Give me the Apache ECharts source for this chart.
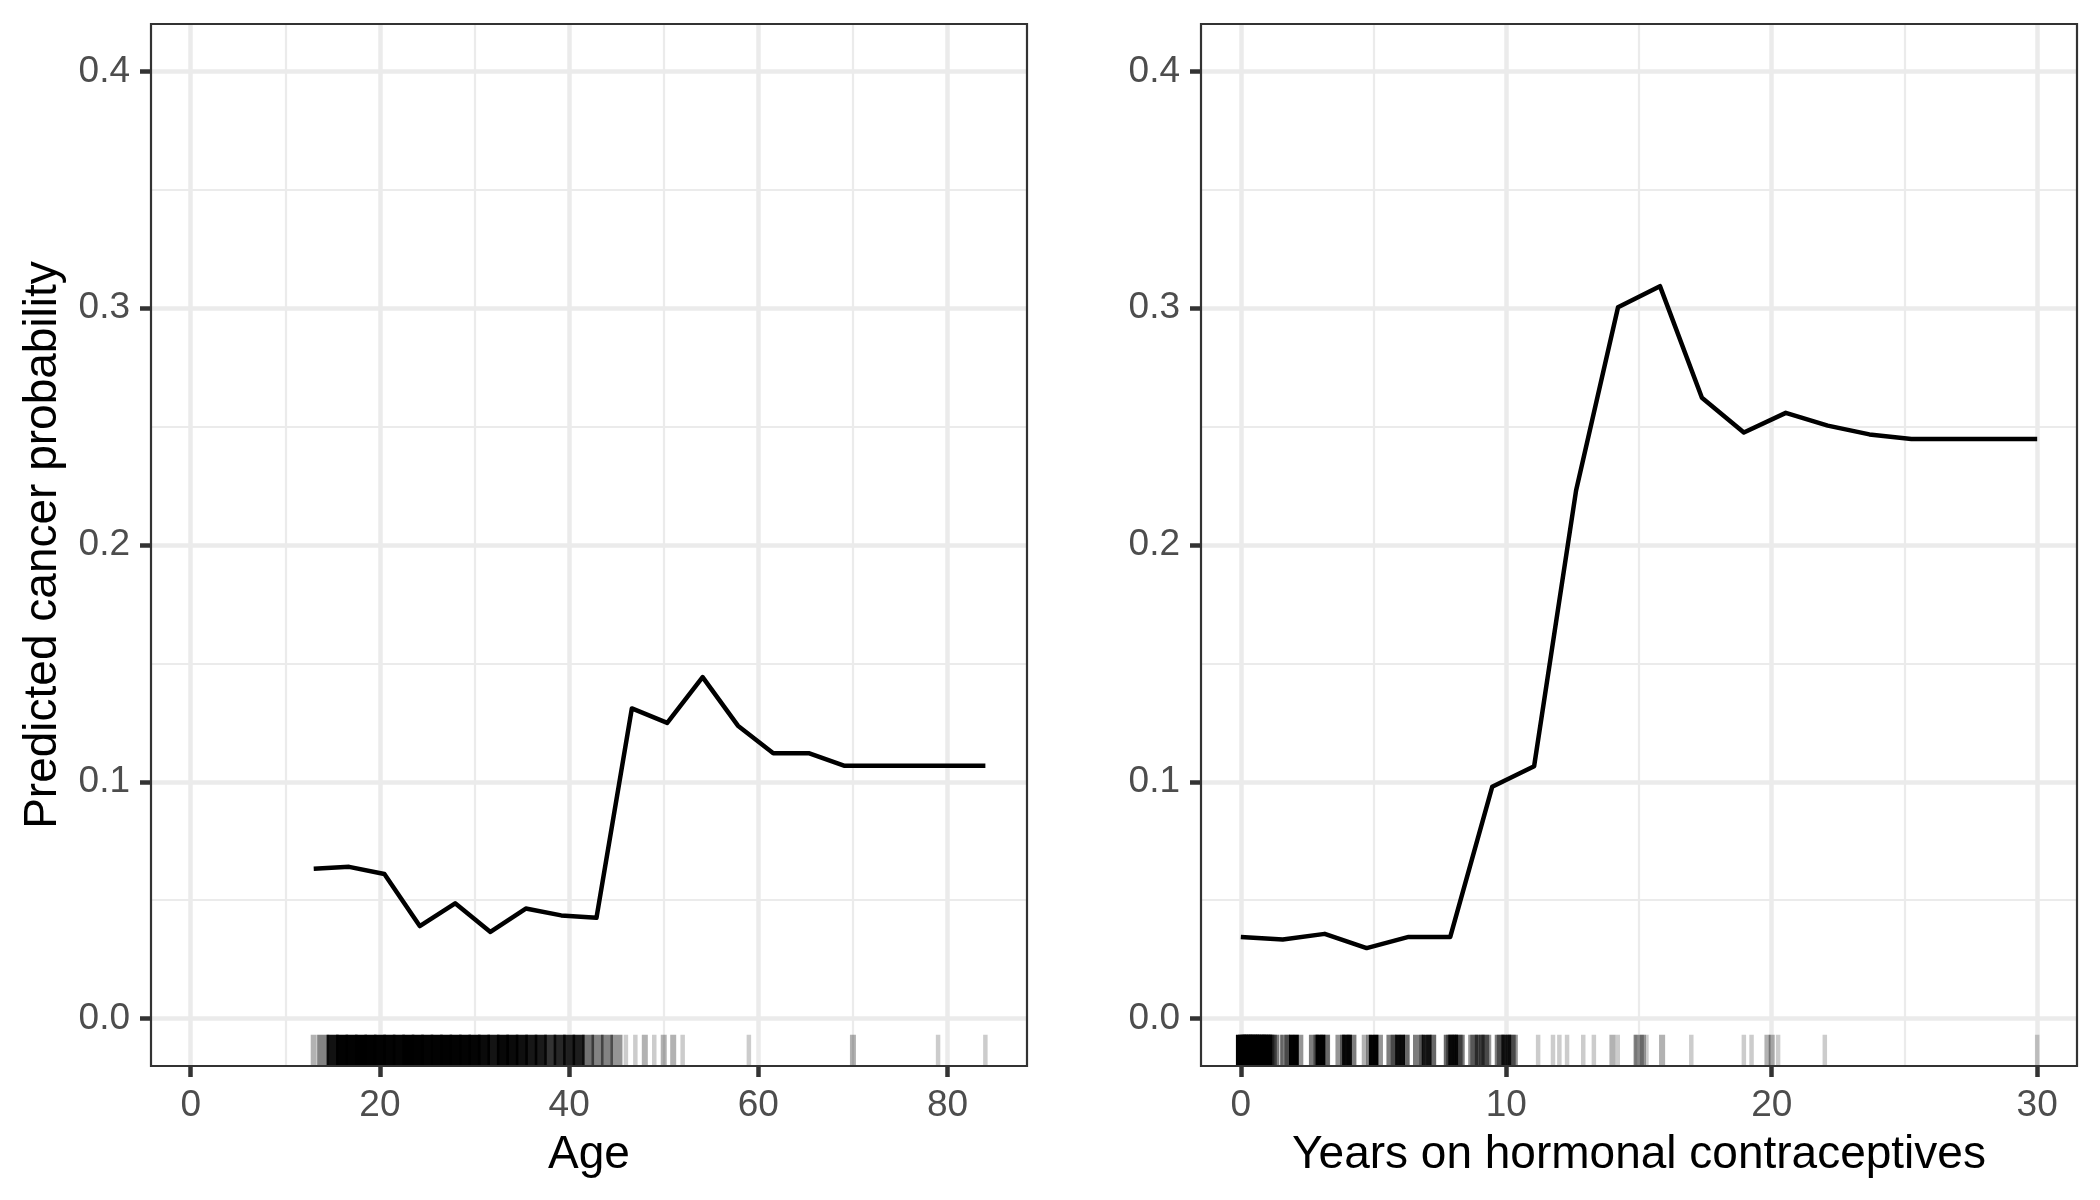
<!DOCTYPE html>
<html>
<head>
<meta charset="utf-8">
<script src="https://cdn.jsdelivr.net/npm/echarts@6/dist/echarts.min.js"></script>
<style>
html,body{margin:0;padding:0;background:#fff;}
#chart{width:2100px;height:1200px;}
</style>
</head>
<body>
<div id="chart"></div>
<script>
// ---- Data ----
const ageGrid = [13, 16.74, 20.47, 24.21, 27.95, 31.68, 35.42, 39.16, 42.89, 46.63, 50.37, 54.11, 57.84, 61.58, 65.32, 69.05, 72.79, 76.53, 80.26, 84];
const agePred = [0.0633, 0.0641, 0.0611, 0.0391, 0.0487, 0.0366, 0.0465, 0.0436, 0.0426, 0.131, 0.1249, 0.1442, 0.1237, 0.1121, 0.1121, 0.1068, 0.1068, 0.1068, 0.1068, 0.1068];

const hcGrid = [0, 1.58, 3.16, 4.74, 6.32, 7.89, 9.47, 11.05, 12.63, 14.21, 15.79, 17.37, 18.95, 20.53, 22.11, 23.68, 25.26, 26.84, 28.42, 30];
const hcPred = [0.0345, 0.0334, 0.0358, 0.0298, 0.0345, 0.0345, 0.0979, 0.1066, 0.223, 0.3004, 0.3093, 0.2622, 0.2475, 0.2558, 0.2504, 0.2467, 0.2448, 0.2448, 0.2448, 0.2448];

// rug: observed values and how many observations sit at each
const ageRugValues = [13,14,15,16,17,18,19,20,21,22,23,24,25,26,27,28,29,30,31,32,33,34,35,36,37,38,39,40,41,42,43,44,45,46,47,48,49,50,51,52,59,70,79,84];
const ageRugCounts = [2,5,20,35,35,50,40,37,33,31,54,39,34,36,40,37,33,32,24,19,26,24,21,18,17,12,14,15,16,6,5,5,4,1,1,2,1,2,2,1,1,2,1,1];

const hcRugValues = [
  0,0.08,0.17,0.25,0.33,0.42,0.5,0.58,0.67,0.75,0.83,0.92,1,1.08,1.17,1.25,
  1.5,1.67,1.83,2,2.17,
  2.75,2.92,3,3.17,3.25,
  3.75,3.92,4,4.17,
  4.67,4.83,5,5.17,
  5.67,5.83,6,6.17,6.25,
  6.67,6.83,7,7.17,7.25,
  7.83,7.92,8,8.17,8.25,
  8.75,8.83,9,9.17,9.25,
  9.75,9.83,10,10.17,10.25,
  11.2,11.76,12,12.29,12.9,13.3,14,14.2,14.86,15,15.15,15.28,15.87,16.97,
  18.95,19.24,19.84,20,20.24,22,30];
const hcRugCounts = [
  150,10,10,30,10,8,30,8,10,10,6,6,50,4,4,4,
  1,4,3,30,3,
  4,3,30,3,2,
  3,3,15,4,
  2,2,25,3,
  4,3,15,3,2,
  4,2,12,3,2,
  5,3,12,4,4,
  3,3,4,4,3,
  4,3,10,4,3,
  1,1,1,1,1,1,2,1,1,3,2,1,2,1,
  1,1,2,2,1,1,1];

const ageTicks = [0, 20, 40, 60, 80];
const ageMinor = [10, 30, 50, 70];
const hcTicks = [0, 10, 20, 30];
const hcMinor = [5, 15, 25];
const probTicks = [0, 0.1, 0.2, 0.3, 0.4];
const probMinor = [0.05, 0.15, 0.25, 0.35];

// ---- Styling ----
const FONT = '"Liberation Sans", Arial, sans-serif';
const GRID_COL = '#EBEBEB';
const Y_MIN = -0.02, Y_MAX = 0.42;
const RUG_FRAC = 0.03;

function zip(a, b) { return a.map((v, i) => [v, b[i]]); }

// rug tick: alpha 0.2 per observation; repeated observations are spread (jittered) into a band
function rugRender(bigHalf, smallHalf, factor) {
  return function (params, api) {
    const v = api.value(0), n = api.value(1);
    const yb = api.coord([v, Y_MIN])[1];
    const yt = api.coord([v, Y_MIN + RUG_FRAC * (Y_MAX - Y_MIN)])[1];
    const half = 2.25;
    const hw = n >= 3 ? bigHalf : (n === 2 ? smallHalf : 0);
    const x0 = api.coord([v - hw, 0])[0] - half;
    const x1 = api.coord([v + hw, 0])[0] + half;
    let op;
    if (n === 1) op = 0.2;
    else if (n === 2) op = 1 - Math.pow(0.8, 1.6);
    else op = 1 - Math.pow(0.8, factor * n);
    return {
      type: 'rect',
      shape: { x: x0, y: yt, width: x1 - x0, height: yb - yt },
      style: { fill: 'rgba(0,0,0,' + op.toFixed(3) + ')' }
    };
  };
}

function xAxisCfg(idx, min, max, ticks, name) {
  return {
    gridIndex: idx, type: 'value', min: min, max: max,
    axisLine: { show: false, onZero: false },
    axisTick: { show: true, length: 11, customValues: ticks, lineStyle: { color: '#333333', width: 4.5 } },
    axisLabel: { customValues: ticks, fontSize: 37, color: '#4D4D4D', margin: 21, fontFamily: FONT },
    splitLine: { show: true, lineStyle: { color: GRID_COL, width: 4.5 } },
    name: name, nameLocation: 'middle', nameGap: 66,
    nameTextStyle: { fontSize: 46, color: '#000000', fontFamily: FONT }
  };
}
function yAxisCfg(idx, name) {
  return {
    gridIndex: idx, type: 'value', min: Y_MIN, max: Y_MAX,
    axisLine: { show: false, onZero: false },
    axisTick: { show: true, length: 11, customValues: probTicks, lineStyle: { color: '#333333', width: 4.5 } },
    axisLabel: { customValues: probTicks, fontSize: 37, color: '#4D4D4D', margin: 21, fontFamily: FONT,
      formatter: v => Number(v).toFixed(1) },
    splitLine: { show: true, lineStyle: { color: GRID_COL, width: 4.5 } },
    name: name, nameLocation: 'middle', nameGap: 85, nameRotate: 90,
    nameTextStyle: { fontSize: 46, color: '#000000', fontFamily: FONT }
  };
}
function minorLines(xs, ys) {
  return {
    silent: true, symbol: 'none', z: 1, animation: false,
    label: { show: false },
    lineStyle: { color: GRID_COL, width: 2.2, type: 'solid' },
    emphasis: { disabled: true },
    data: xs.map(v => ({ xAxis: v })).concat(ys.map(v => ({ yAxis: v })))
  };
}

const chart = echarts.init(document.getElementById('chart'), null, { renderer: 'canvas' });
chart.setOption({
  backgroundColor: '#ffffff',
  animation: false,
  grid: [
    { left: 151, top: 24, width: 876, height: 1042, show: true, borderColor: '#333333', borderWidth: 2.2, backgroundColor: 'transparent', z: 10 },
    { left: 1201, top: 24, width: 876, height: 1042, show: true, borderColor: '#333333', borderWidth: 2.2, backgroundColor: 'transparent', z: 10 }
  ],
  xAxis: [
    xAxisCfg(0, -4.2, 88.4, ageTicks, 'Age'),
    xAxisCfg(1, -1.5, 31.5, hcTicks, 'Years on hormonal contraceptives')
  ],
  yAxis: [
    yAxisCfg(0, 'Predicted cancer probability'),
    yAxisCfg(1, '')
  ],
  series: [
    {
      type: 'line', xAxisIndex: 0, yAxisIndex: 0, z: 3,
      data: zip(ageGrid, agePred), showSymbol: false, symbol: 'none',
      lineStyle: { color: '#000000', width: 4.5, join: 'round', cap: 'butt' },
      markLine: minorLines(ageMinor, probMinor)
    },
    {
      type: 'line', xAxisIndex: 1, yAxisIndex: 1, z: 3,
      data: zip(hcGrid, hcPred), showSymbol: false, symbol: 'none',
      lineStyle: { color: '#000000', width: 4.5, join: 'round', cap: 'butt' },
      markLine: minorLines(hcMinor, probMinor)
    },
    {
      type: 'custom', xAxisIndex: 0, yAxisIndex: 0, z: 2,
      renderItem: rugRender(0.4, 0.08, 0.6),
      encode: { x: 0, y: 1 },
      data: zip(ageRugValues, ageRugCounts)
    },
    {
      type: 'custom', xAxisIndex: 1, yAxisIndex: 1, z: 2,
      renderItem: rugRender(0.1, 0.03, 0.8),
      encode: { x: 0, y: 1 },
      data: zip(hcRugValues, hcRugCounts)
    }
  ]
});
</script>
</body>
</html>
